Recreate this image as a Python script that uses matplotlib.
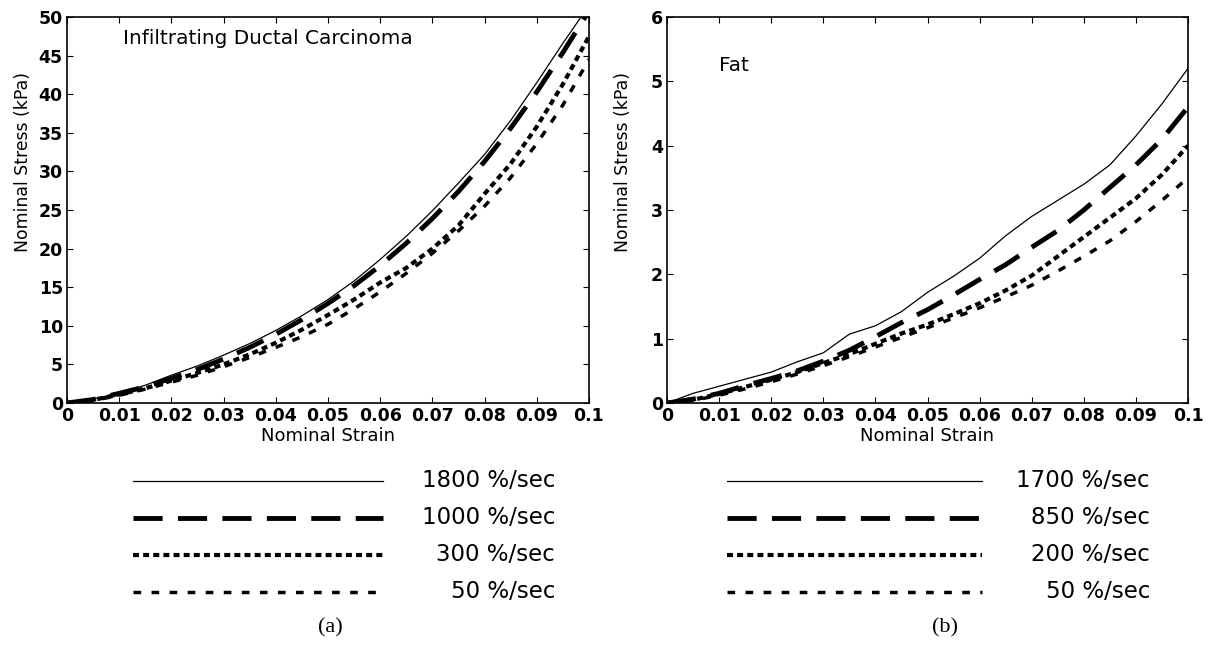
import matplotlib
matplotlib.use('Agg')
import matplotlib.pyplot as plt

plt.rcParams['font.family'] = ['DejaVu Sans']
plt.rcParams['lines.scale_dashes'] = False

# strain values shared by all curves
strain = [0, 0.005, 0.01, 0.015, 0.02, 0.025, 0.03, 0.035, 0.04, 0.045, 0.05,
          0.055, 0.06, 0.065, 0.07, 0.075, 0.08, 0.085, 0.09, 0.095, 0.1]

# (a) infiltrating ductal carcinoma, stress in kPa
idc_1800 = [0, 0.5, 1.3, 2.3, 3.6, 4.8, 6.2, 7.7, 9.4, 11.3, 13.4,
            15.8, 18.6, 21.6, 24.9, 28.5, 32.2, 36.6, 41.5, 46.6, 51.5]
idc_1000 = [0, 0.45, 1.25, 2.1, 3.2, 4.35, 5.7, 7.2, 8.9, 10.8, 12.9,
            15.2, 17.8, 20.7, 23.9, 27.4, 31.3, 35.6, 40.3, 45.4, 50.8]
idc_300 = [0, 0.4, 1.1, 1.9, 2.9, 3.9, 5.0, 6.3, 7.8, 9.5, 11.4,
           13.4, 15.6, 17.5, 20.0, 23.0, 27.1, 31.0, 35.8, 41.3, 47.5]
idc_50 = [0, 0.3, 1.0, 1.8, 2.7, 3.6, 4.7, 5.9, 7.2, 8.6, 10.2,
          12.2, 14.4, 16.8, 19.4, 22.3, 25.5, 29.2, 33.6, 38.6, 44.5]
idc_labels = ['1800 %/sec', '1000 %/sec', '300 %/sec', '50 %/sec']

# (b) fat, stress in kPa
fat_1700 = [0, 0.15, 0.26, 0.37, 0.48, 0.64, 0.78, 1.07, 1.2, 1.42, 1.72,
            1.97, 2.25, 2.6, 2.9, 3.15, 3.4, 3.7, 4.15, 4.65, 5.2]
fat_850 = [0, 0.06, 0.15, 0.27, 0.38, 0.5, 0.65, 0.82, 1.03, 1.25, 1.45,
           1.68, 1.92, 2.15, 2.42, 2.68, 3.0, 3.35, 3.7, 4.1, 4.6]
fat_200 = [0, 0.05, 0.14, 0.25, 0.36, 0.48, 0.62, 0.76, 0.92, 1.08, 1.22,
           1.38, 1.55, 1.75, 1.98, 2.28, 2.58, 2.88, 3.18, 3.55, 4.0]
fat_50 = [0, 0.04, 0.12, 0.22, 0.33, 0.45, 0.58, 0.72, 0.87, 1.02, 1.17,
          1.32, 1.48, 1.65, 1.83, 2.05, 2.28, 2.52, 2.82, 3.15, 3.5]
fat_labels = ['1700 %/sec', '850 %/sec', '200 %/sec', '50 %/sec']

x_ticks = [0, 0.01, 0.02, 0.03, 0.04, 0.05, 0.06, 0.07, 0.08, 0.09, 0.1]
x_ticklabels = ['0', '0.01', '0.02', '0.03', '0.04', '0.05', '0.06',
                '0.07', '0.08', '0.09', '0.1']

# line styles: solid, long dash, dotted, short dash
styles = [dict(lw=0.9, ls='-'),
          dict(lw=3.5, dashes=(21, 11)),
          dict(lw=3.0, dashes=(4.3, 3)),
          dict(lw=2.5, dashes=(5.5, 7.5))]

W, H = 1213, 646
fig = plt.figure(figsize=(W / 100, H / 100), dpi=100)


def px_axes(x0, y0, x1, y1):
    return fig.add_axes([x0 / W, 1 - y1 / H, (x1 - x0) / W, (y1 - y0) / H])


def panel(ax, series, ymax, yticks, name, name_xy):
    for ys, st in zip(series, styles):
        ax.plot(strain, ys, color='black', **st)
    ax.set_xlim(0, 0.1)
    ax.set_ylim(0, ymax)
    ax.set_xticks(x_ticks)
    ax.set_xticklabels(x_ticklabels)
    ax.set_yticks(yticks)
    ax.tick_params(direction='in', top=True, right=True, length=4,
                   labelsize=12.5, pad=3)
    for lab in ax.get_xticklabels() + ax.get_yticklabels():
        lab.set_fontweight('bold')
    for s in ax.spines.values():
        s.set_linewidth(1.2)
    ax.set_xlabel('Nominal Strain', fontsize=13)
    ax.set_ylabel('Nominal Stress (kPa)', fontsize=12.4)
    ax.xaxis.set_label_coords(0.5, -0.063)
    ax.yaxis.set_label_coords(-0.068, 0.624)
    ax.text(name_xy[0], name_xy[1], name, transform=ax.transAxes,
            fontsize=14.4, va='center', ha='left')


def legend_box(x0, x_line_end, x_text_end, labels, caption, cap_x):
    lax = px_axes(x0, 462, x_text_end, 610)
    lax.set_xlim(x0, x_text_end)
    lax.set_ylim(3.5, -0.5)
    lax.axis('off')
    for i, (lab, st) in enumerate(zip(labels, styles)):
        lax.plot([x0, x_line_end], [i, i], color='black', **st)
        lax.text(x_text_end, i, lab, ha='right', va='center', fontsize=16.5)
    fig.text(cap_x / W, 1 - 628 / H, caption, ha='center', va='center',
             fontsize=16, family='Liberation Serif')


ax1 = px_axes(67, 17, 589, 403)
panel(ax1, [idc_1800, idc_1000, idc_300, idc_50], 50, range(0, 51, 5),
      'Infiltrating Ductal Carcinoma', (0.108, 0.945))

ax2 = px_axes(667, 17, 1188, 403)
panel(ax2, [fat_1700, fat_850, fat_200, fat_50], 6, range(0, 7),
      'Fat', (0.10, 0.875))

legend_box(133, 383, 555, idc_labels, '(a)', 330)
legend_box(727, 982, 1150, fat_labels, '(b)', 945)

fig.savefig('out.png', dpi=100)
